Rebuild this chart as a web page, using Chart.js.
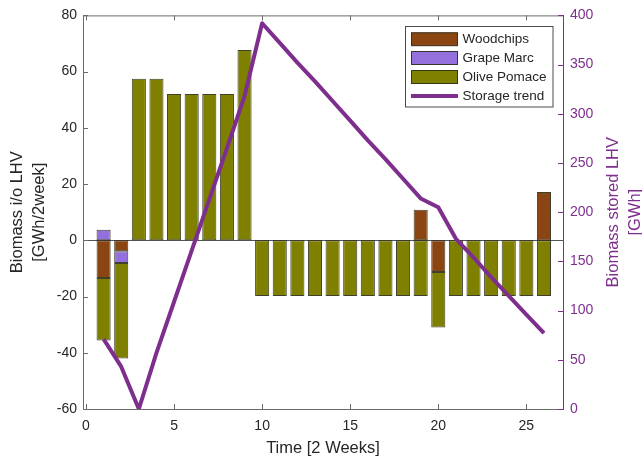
<!DOCTYPE html>
<html>
<head>
<meta charset="utf-8">
<script src="https://cdn.jsdelivr.net/npm/chart.js@4/dist/chart.umd.min.js"></script>
<style>
  html, body { margin: 0; padding: 0; background: #fff; }
  #wrap { width: 642px; height: 462px; }
</style>
</head>
<body>
<div id="wrap"><canvas id="c" width="642" height="462"></canvas></div>
<script>
// ---- data ----
const weeks = [1,2,3,4,5,6,7,8,9,10,11,12,13,14,15,16,17,18,19,20,21,22,23,24,25,26];
const woodchips = [-13.4,-3.9,0,0,0,0,0,0,0,0,0,0,0,0,0,0,0,0,10.9,-11.3,0,0,0,0,0,17.2];
const grapeMarc = [3.8,-4.2,0,0,0,0,0,0,0,0,0,0,0,0,0,0,0,0,0,0,0,0,0,0,0,0];
const olivePomace = [-22.2,-33.9,57.5,57.5,52.0,52.0,52.0,52.0,67.7,-19.8,-19.8,-19.8,-19.8,-19.8,-19.8,-19.8,-19.8,-19.8,-19.8,-19.7,-19.8,-19.8,-19.8,-19.8,-19.8,-19.8];
const storage = [71,43,0,57,109,161,213,265,318,392,372,352,333,313,293,273,254,234,214,205,173,154,134,115,96,77];
const seriesNames = ['Woodchips','Grape Marc','Olive Pomace','Storage trend'];
const xTicks = [0,5,10,15,20,25];
const leftTicks = [-60,-40,-20,0,20,40,60,80];
const rightTicks = [0,50,100,150,200,250,300,350,400];

const C_WOOD = '#8B4513', C_GRAPE = '#9370DB', C_OLIVE = '#808000', C_LINE = '#7E2F8E';
const AX = '#6b6b6b', TXT = '#262626';

Chart.defaults.font.family = "'Liberation Sans', Arial, Helvetica, sans-serif";
Chart.defaults.font.size = 14;
Chart.defaults.color = TXT;

const pts = arr => weeks.map((w, i) => ({ x: w, y: arr[i] === 0 ? null : arr[i] }));

const barStyle = c => ({
  backgroundColor: c, borderColor: 'rgba(30,30,10,0.85)', borderWidth: 1,
  borderSkipped: false, categoryPercentage: 1.0, barPercentage: 0.8,
  yAxisID: 'y', order: 1
});

const framePlugin = {
  id: 'framePlugin',
  beforeDatasetsDraw(chart) {
    const { ctx, chartArea: a, scales } = chart;
    const y0 = Math.round(scales.y.getPixelForValue(0)) + 0.5;
    ctx.save();
    ctx.strokeStyle = '#555';
    ctx.lineWidth = 1;
    ctx.beginPath(); ctx.moveTo(a.left, y0); ctx.lineTo(a.right, y0); ctx.stroke();
    ctx.restore();
  },
  afterDraw(chart) {
    const { ctx, chartArea: a, scales } = chart;
    const TL = 5;
    ctx.save();
    ctx.lineWidth = 1;
    // top border
    ctx.strokeStyle = AX;
    ctx.beginPath(); ctx.moveTo(a.left, a.top + 0.5); ctx.lineTo(a.right, a.top + 0.5); ctx.stroke();
    // x ticks (bottom & top, inward)
    xTicks.forEach(v => {
      const px = Math.round(scales.x.getPixelForValue(v)) + 0.5;
      ctx.beginPath();
      ctx.moveTo(px, a.bottom); ctx.lineTo(px, a.bottom - TL);
      ctx.moveTo(px, a.top); ctx.lineTo(px, a.top + TL);
      ctx.stroke();
    });
    // left ticks
    leftTicks.forEach(v => {
      const py = Math.round(scales.y.getPixelForValue(v)) + 0.5;
      ctx.beginPath(); ctx.moveTo(a.left, py); ctx.lineTo(a.left + TL, py); ctx.stroke();
    });
    // right ticks
    ctx.strokeStyle = C_LINE;
    rightTicks.forEach(v => {
      const py = Math.round(scales.y2.getPixelForValue(v)) + 0.5;
      ctx.beginPath(); ctx.moveTo(a.right, py); ctx.lineTo(a.right - TL, py); ctx.stroke();
    });
    // right axis title (reads bottom-to-top)
    ctx.fillStyle = C_LINE;
    ctx.font = "16.5px 'Liberation Sans', Arial, sans-serif";
    ctx.textAlign = 'center';
    ctx.textBaseline = 'middle';
    ctx.translate(613, (a.top + a.bottom) / 2);
    ctx.rotate(-Math.PI / 2);
    ctx.fillText('Biomass stored LHV', 0, 0);
    ctx.fillText('[GWh]', 0, 22);
    ctx.restore();

    // legend
    ctx.save();
    const bx = 405.5, by = 26.5, bw = 147.5, bh = 80.5;
    ctx.fillStyle = '#fff';
    ctx.fillRect(bx, by, bw, bh);
    ctx.strokeStyle = '#4a4a4a';
    ctx.lineWidth = 1;
    ctx.strokeRect(bx, by, bw, bh);
    const rows = [39.2, 58, 77, 96];
    const ds = chart.data.datasets;
    ctx.font = "13.5px 'Liberation Sans', Arial, sans-serif";
    ctx.textAlign = 'left';
    ctx.textBaseline = 'middle';
    ds.forEach((d, i) => {
      const cy = rows[i];
      if (d.type === 'line') {
        ctx.strokeStyle = d.borderColor; ctx.lineWidth = 4;
        ctx.beginPath(); ctx.moveTo(411, cy); ctx.lineTo(458, cy); ctx.stroke();
      } else {
        ctx.fillStyle = d.backgroundColor;
        ctx.fillRect(411.5, cy - 6.5, 46, 13);
        ctx.strokeStyle = 'rgba(30,30,10,0.85)'; ctx.lineWidth = 1;
        ctx.strokeRect(411.5, cy - 6.5, 46, 13);
      }
      ctx.fillStyle = TXT;
      ctx.fillText(d.label, 462.5, cy + 0.5);
    });
    ctx.restore();
  }
};

new Chart(document.getElementById('c'), {
  type: 'bar',
  data: {
    datasets: [
      Object.assign({ label: seriesNames[0], data: pts(woodchips) }, barStyle(C_WOOD)),
      Object.assign({ label: seriesNames[1], data: pts(grapeMarc) }, barStyle(C_GRAPE)),
      Object.assign({ label: seriesNames[2], data: pts(olivePomace) }, barStyle(C_OLIVE)),
      {
        type: 'line', label: seriesNames[3],
        data: weeks.map((w, i) => ({ x: w, y: storage[i] })),
        borderColor: C_LINE, backgroundColor: C_LINE, borderWidth: 4,
        pointRadius: 0, tension: 0, borderJoinStyle: 'round', borderCapStyle: 'butt',
        yAxisID: 'y2', order: 0
      }
    ]
  },
  options: {
    responsive: false,
    animation: false,
    events: [],
    layout: { padding: { top: 15, left: 0, right: 0, bottom: 0 } },
    plugins: { legend: { display: false }, tooltip: { enabled: false } },
    scales: {
      x: {
        type: 'linear', min: -0.17, max: 27.08, stacked: true, offset: false,
        grid: { display: false, drawTicks: false, offset: false },
        border: { display: true, color: AX, width: 1 },
        ticks: { stepSize: 5, includeBounds: false, padding: 9, color: TXT, font: { size: 14 } },
        title: { display: true, text: 'Time [2 Weeks]', color: TXT, font: { size: 16.5 }, padding: { top: 0, bottom: 4 } },
        afterFit: s => { s.height = 53; }
      },
      y: {
        position: 'left', stacked: true, min: -60, max: 80,
        grid: { display: false, drawTicks: false },
        border: { display: true, color: AX, width: 1 },
        ticks: { stepSize: 20, padding: 6, color: TXT, font: { size: 14 } },
        title: { display: true, text: ['Biomass i/o LHV', '[GWh/2week]'], color: TXT,
                 font: { size: 16.5, lineHeight: 1.364 }, padding: { top: 6, bottom: 0 } },
        afterFit: s => { s.width = 83; }
      },
      y2: {
        position: 'right', min: 0, max: 400,
        grid: { display: false, drawTicks: false },
        border: { display: true, color: C_LINE, width: 1 },
        ticks: { stepSize: 50, padding: 7, color: C_LINE, font: { size: 14 } },
        afterFit: s => { s.width = 79; }
      }
    }
  },
  plugins: [framePlugin]
});
</script>
</body>
</html>
